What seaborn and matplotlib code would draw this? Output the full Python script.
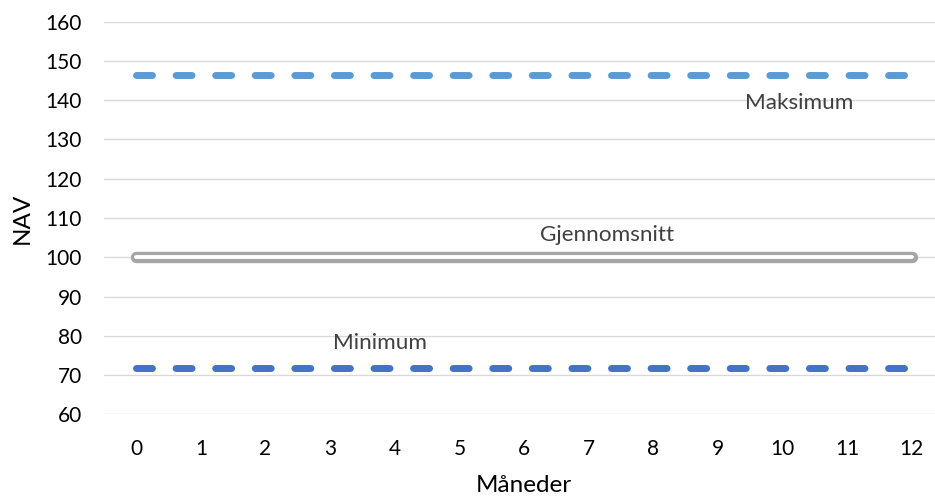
import matplotlib
matplotlib.use("Agg")
import matplotlib.pyplot as plt
import seaborn as sns
import pandas as pd

# Monthly NAV bands: maximum, average and minimum over a 12-month horizon
months = [0, 1, 2, 3, 4, 5, 6, 7, 8, 9, 10, 11, 12]
maksimum = [146.4, 146.4, 146.4, 146.4, 146.4, 146.4, 146.4, 146.4, 146.4, 146.4, 146.4, 146.4, 146.4]
gjennomsnitt = [100.1, 100.1, 100.1, 100.1, 100.1, 100.1, 100.1, 100.1, 100.1, 100.1, 100.1, 100.1, 100.1]
minimum = [71.8, 71.8, 71.8, 71.8, 71.8, 71.8, 71.8, 71.8, 71.8, 71.8, 71.8, 71.8, 71.8]
y_ticks = [60, 70, 80, 90, 100, 110, 120, 130, 140, 150, 160]

df = pd.DataFrame({"Måneder": months, "Maksimum": maksimum,
                   "Gjennomsnitt": gjennomsnitt, "Minimum": minimum})

sns.set_theme(style="white")
plt.rcParams["font.family"] = ["Lato", "DejaVu Sans"]

fig = plt.figure(figsize=(9.35, 4.97), dpi=100)
ax = fig.add_axes([104 / 935, 1 - 414.3 / 497, (944 - 104) / 935, (414.3 - 21.7) / 497])

# Average: grey double line (thick grey with a thin white core)
sns.lineplot(data=df, x="Måneder", y="Gjennomsnitt", ax=ax, color="#A5A5A5",
             linewidth=8.2, solid_capstyle="round", zorder=3)
sns.lineplot(data=df, x="Måneder", y="Gjennomsnitt", ax=ax, color="#FFFFFF",
             linewidth=2.8, solid_capstyle="round", zorder=4)

# Maximum and minimum: dashed lines with rounded caps
sns.lineplot(data=df, x="Måneder", y="Maksimum", ax=ax, color="#5B9BD5",
             linewidth=5, dash_capstyle="round", zorder=3)
sns.lineplot(data=df, x="Måneder", y="Minimum", ax=ax, color="#4472C4",
             linewidth=5, dash_capstyle="round", zorder=3)
for line in ax.lines[2:]:
    line.set_linestyle((0, (2.3, 3.4)))

ax.set_xlim(-0.5, 12.5)
ax.set_ylim(60, 160)
ax.set_xticks(months)
ax.set_xticklabels([str(m) for m in months])
ax.set_yticks(y_ticks)
ax.grid(axis="y", color="#D9D9D9", linewidth=1.0)
ax.grid(axis="x", visible=False)
for s in ax.spines.values():
    s.set_visible(False)
ax.tick_params(axis="both", length=0, labelsize=15, colors="#000000")
ax.tick_params(axis="y", pad=16)
ax.tick_params(axis="x", pad=18)

ax.set_xlabel("Måneder", fontsize=17.5, color="#000000", labelpad=11)
ax.set_ylabel("NAV", fontsize=17.5, color="#000000", labelpad=9)

# Series name labels
lab_kw = dict(fontsize=16.2, color="#404040", ha="center", va="center", zorder=5)
ax.text(10.26, 139.3, "Maksimum", **lab_kw)
ax.text(7.29, 105.7, "Gjennomsnitt", **lab_kw)
ax.text(3.77, 78.2, "Minimum", **lab_kw)

fig.savefig("out.png", dpi=100)
